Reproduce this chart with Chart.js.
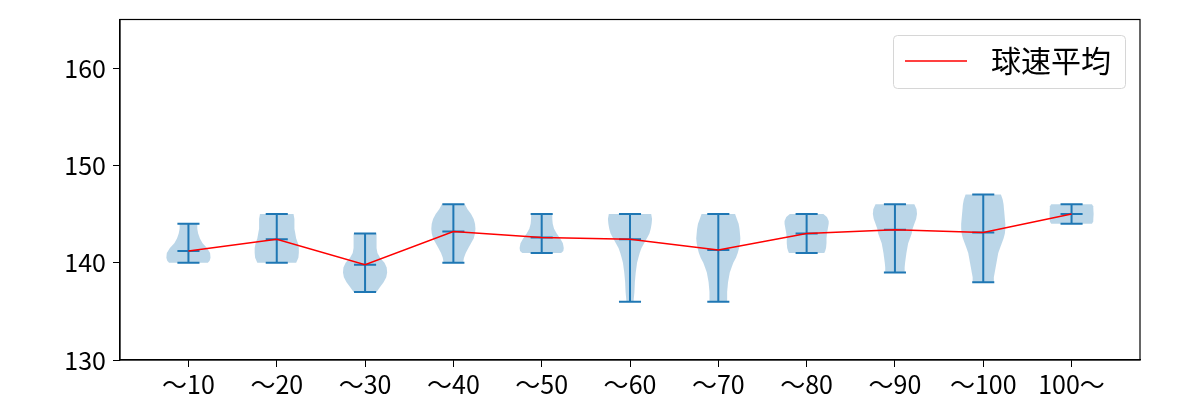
<!DOCTYPE html>
<html>
<head>
<meta charset="utf-8">
<script src="https://cdn.jsdelivr.net/npm/chart.js@4.4.1/dist/chart.umd.min.js"></script>
<style>
  html, body { margin: 0; padding: 0; background: #fff; }
  #wrap { width: 1200px; height: 400px; }
</style>
</head>
<body>
<div id="wrap"><canvas id="chart" width="1200" height="400"></canvas></div>
<script>
const categories = ['～10', '～20', '～30', '～40', '～50', '～60', '～70', '～80', '～90', '～100', '100～'];
const means = [141.2, 142.4, 139.8, 143.2, 142.6, 142.4, 141.3, 143.0, 143.4, 143.1, 145.0];
const mins = [140, 140, 137, 140, 141, 136, 136, 141, 139, 138, 144];
const maxs = [144, 145, 143, 146, 145, 145, 145, 145, 146, 147, 146];
const yTicks = [130, 140, 150, 160];

// violin outlines: [speed, half width] from bottom to top
const v10 = [[140, 0.22], [140.2, 0.24], [140.5, 0.25], [141, 0.245], [141.5, 0.21], [142, 0.16], [142.5, 0.13], [143, 0.11], [143.5, 0.10], [144, 0.10]];
const v20 = [[140, 0.22], [140.5, 0.245], [141, 0.25], [141.5, 0.25], [142, 0.24], [142.5, 0.22], [143, 0.21], [143.5, 0.2], [144, 0.2], [144.5, 0.2], [145, 0.19]];
const v30 = [[137, 0.13], [137.5, 0.17], [138, 0.21], [138.5, 0.24], [139, 0.25], [139.5, 0.245], [140, 0.22], [140.5, 0.17], [141, 0.14], [141.5, 0.13], [142, 0.13], [142.5, 0.13], [143, 0.13]];
const v40 = [[140, 0.11], [140.5, 0.12], [141, 0.14], [141.5, 0.17], [142, 0.2], [142.5, 0.23], [143, 0.245], [143.5, 0.25], [144, 0.245], [144.5, 0.23], [145, 0.2], [145.5, 0.16], [146, 0.13]];
const v50 = [[141, 0.22], [141.2, 0.245], [141.5, 0.25], [142, 0.24], [142.5, 0.21], [143, 0.17], [143.5, 0.14], [144, 0.125], [144.5, 0.12], [145, 0.12]];
const v60 = [[136, 0.04], [136.5, 0.045], [137, 0.05], [138, 0.055], [139, 0.065], [140, 0.08], [140.5, 0.095], [141, 0.11], [141.5, 0.13], [142, 0.16], [142.5, 0.19], [143, 0.22], [143.5, 0.235], [144, 0.245], [144.5, 0.25], [145, 0.24]];
const v70 = [[136, 0.1], [136.5, 0.1], [137, 0.1], [138, 0.11], [139, 0.13], [139.5, 0.15], [140, 0.17], [140.5, 0.2], [141, 0.22], [141.5, 0.235], [142, 0.245], [142.5, 0.25], [143, 0.245], [143.5, 0.24], [144, 0.23], [144.5, 0.21], [145, 0.19]];
const v80 = [[141, 0.2], [141.2, 0.21], [141.5, 0.22], [142, 0.225], [142.5, 0.225], [143, 0.23], [143.5, 0.24], [144, 0.25], [144.3, 0.25], [144.7, 0.23], [145, 0.19]];
const v90 = [[139, 0.11], [139.5, 0.11], [140, 0.115], [141, 0.13], [141.5, 0.14], [142, 0.15], [142.5, 0.17], [143, 0.19], [143.5, 0.2], [144, 0.22], [144.5, 0.24], [145, 0.25], [145.5, 0.245], [146, 0.22]];
const v100 = [[138, 0.12], [138.5, 0.12], [139, 0.13], [139.5, 0.14], [140, 0.15], [140.5, 0.16], [141, 0.17], [141.5, 0.19], [142, 0.21], [142.5, 0.23], [143, 0.245], [143.5, 0.25], [144, 0.25], [144.5, 0.245], [145, 0.24], [145.5, 0.235], [146, 0.23], [146.5, 0.22], [147, 0.2]];
const v100plus = [[144, 0.23], [144.2, 0.245], [145, 0.25], [145.8, 0.245], [146, 0.23]];
const profiles = [v10, v20, v30, v40, v50, v60, v70, v80, v90, v100, v100plus];

const FONT = '"Noto Sans CJK JP", "Noto Sans", sans-serif';
const BLUE = '#1f77b4';

const violinPlugin = {
  id: 'violins',
  beforeDatasetsDraw(chart) {
    const { ctx, scales: { x, y } } = chart;
    ctx.save();
    ctx.fillStyle = 'rgba(31,119,180,0.3)';
    profiles.forEach((prof, i) => {
      const pos = i + 1;
      ctx.beginPath();
      prof.forEach(([v, w], k) => {
        const px = x.getPixelForValue(pos + w);
        const py = y.getPixelForValue(v);
        if (k === 0) ctx.moveTo(px, py); else ctx.lineTo(px, py);
      });
      for (let k = prof.length - 1; k >= 0; k--) {
        const [v, w] = prof[k];
        ctx.lineTo(x.getPixelForValue(pos - w), y.getPixelForValue(v));
      }
      ctx.closePath();
      ctx.fill();
    });

    // min / max / mean bars
    ctx.strokeStyle = BLUE;
    ctx.lineWidth = 2;
    categories.forEach((c, i) => {
      const cx = x.getPixelForValue(i + 1);
      const l = x.getPixelForValue(i + 1 - 0.125);
      const r = x.getPixelForValue(i + 1 + 0.125);
      ctx.beginPath();
      ctx.moveTo(cx, y.getPixelForValue(mins[i]));
      ctx.lineTo(cx, y.getPixelForValue(maxs[i]));
      [mins[i], maxs[i], means[i]].forEach(v => {
        const py = y.getPixelForValue(v);
        ctx.moveTo(l, py);
        ctx.lineTo(r, py);
      });
      ctx.stroke();
    });
    ctx.restore();
  },
  afterDraw(chart) {
    const { ctx, chartArea: a } = chart;
    ctx.save();
    // frame
    ctx.strokeStyle = '#000';
    ctx.lineWidth = 1.2;
    ctx.strokeRect(a.left, a.top, a.right - a.left, a.bottom - a.top);

    // legend box
    const bx = 893.5, by = 35.5, bw = 232, bh = 53, rad = 4;
    ctx.beginPath();
    ctx.moveTo(bx + rad, by);
    ctx.arcTo(bx + bw, by, bx + bw, by + bh, rad);
    ctx.arcTo(bx + bw, by + bh, bx, by + bh, rad);
    ctx.arcTo(bx, by + bh, bx, by, rad);
    ctx.arcTo(bx, by, bx + bw, by, rad);
    ctx.closePath();
    ctx.fillStyle = 'rgba(255,255,255,0.8)';
    ctx.fill();
    ctx.strokeStyle = '#d6d6d6';
    ctx.lineWidth = 1;
    ctx.stroke();

    const ds = chart.data.datasets[0];
    ctx.strokeStyle = ds.borderColor;
    ctx.lineWidth = ds.borderWidth;
    ctx.beginPath();
    ctx.moveTo(905, 61);
    ctx.lineTo(967, 61);
    ctx.stroke();
    ctx.fillStyle = '#000';
    ctx.font = '30px ' + FONT;
    ctx.textBaseline = 'middle';
    ctx.textAlign = 'left';
    ctx.fillText(ds.label, 991, 61);
    ctx.restore();
  }
};

new Chart(document.getElementById('chart').getContext('2d'), {
  type: 'line',
  data: {
    datasets: [{
      label: '球速平均',
      data: means.map((m, i) => ({ x: i + 1, y: m })),
      borderColor: '#ff0000',
      borderWidth: 1.5,
      pointRadius: 0,
      fill: false,
      tension: 0
    }]
  },
  options: {
    responsive: false,
    animation: false,
    layout: { padding: { top: 19, right: 60, left: 0, bottom: 0 } },
    plugins: { legend: { display: false }, tooltip: { enabled: false } },
    scales: {
      x: {
        type: 'linear',
        min: 0.225,
        max: 11.775,
        afterBuildTicks: axis => { axis.ticks = categories.map((c, i) => ({ value: i + 1 })); },
        afterFit: axis => { axis.height = 40; },
        ticks: {
          callback: v => categories[v - 1],
          autoSkip: false,
          maxRotation: 0,
          color: '#000',
          padding: 2,
          font: { family: FONT, size: 25 }
        },
        grid: { drawOnChartArea: false, tickLength: 7, color: '#000' },
        border: { color: '#000', width: 1.2 }
      },
      y: {
        min: 130,
        max: 165,
        afterBuildTicks: axis => { axis.ticks = yTicks.map(v => ({ value: v })); },
        afterFit: axis => { axis.width = 120; },
        ticks: {
          color: '#000',
          padding: 7,
          font: { family: FONT, size: 25, lineHeight: 1 }
        },
        grid: { drawOnChartArea: false, tickLength: 7, color: '#000' },
        border: { color: '#000', width: 1.2 }
      }
    }
  },
  plugins: [violinPlugin]
});
</script>
</body>
</html>
